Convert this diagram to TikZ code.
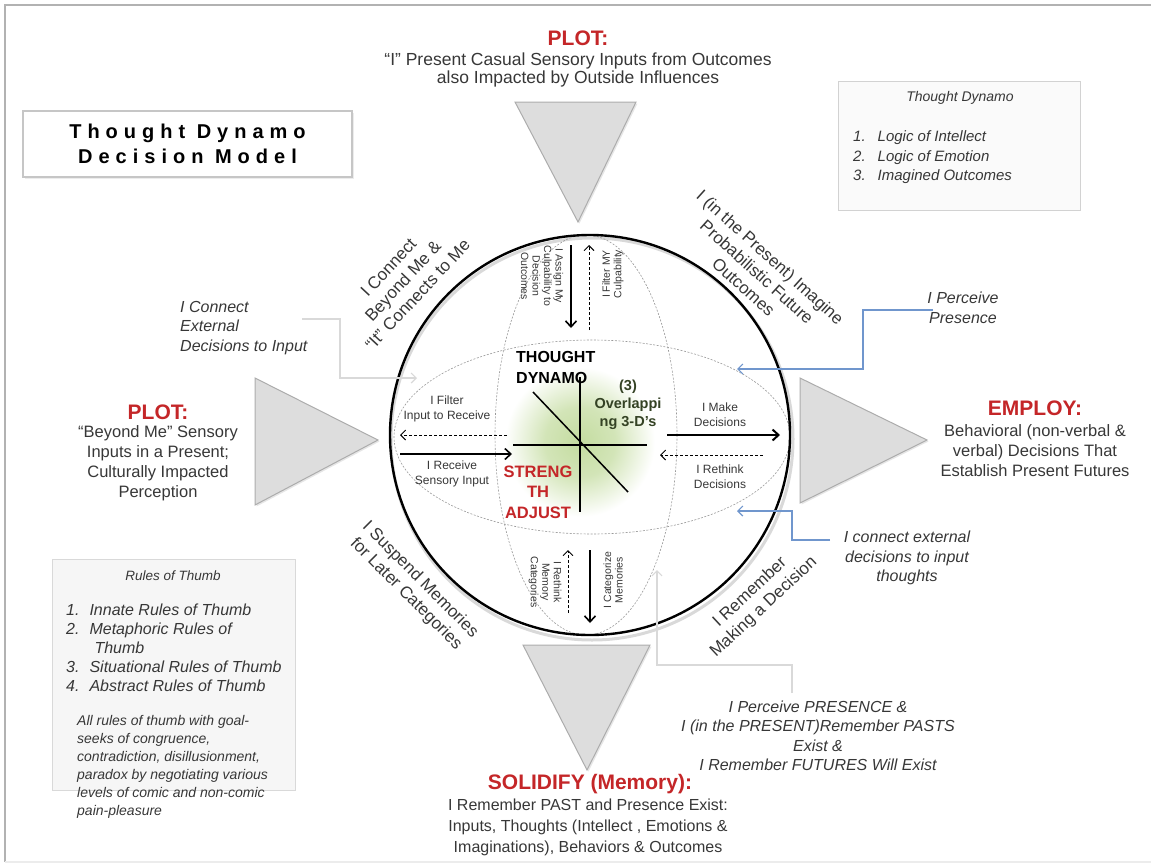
\documentclass[tikz,border=0pt]{standalone}
\usepackage{fontspec}
\setmainfont{Liberation Sans}
\usetikzlibrary{positioning,arrows.meta,shadows}
\definecolor{plotred}{RGB}{196,38,40}
\definecolor{txtgray}{RGB}{55,55,55}
\definecolor{linkblue}{RGB}{112,150,205}
\definecolor{glowgreen}{RGB}{196,220,160}
\definecolor{olivetxt}{RGB}{52,66,36}
\newcommand{\fsz}[2]{\fontsize{#1}{#2}\selectfont}
\pgfdeclareradialshading{greenglow}{\pgfpoint{0bp}{0bp}}{color(0bp)=(glowgreen);
  color(8bp)=(glowgreen!75!white); color(17bp)=(white); color(50bp)=(white)}

\begin{document}
\begin{tikzpicture}[x=1pt,y=-1pt]
  \tikzset{lbl/.style={align=center,text=txtgray,font=\fsz{16.5}{20}},
    hd/.style={text=plotred,font=\bfseries\fsz{21}{24}},
    note/.style={align=center,text=txtgray,font=\itshape\fsz{16}{19.5},inner sep=0pt},
    inlbl/.style={align=center,text=txtgray,font=\fsz{12}{15},inner sep=0pt},
    vlbl/.style={align=center,text=txtgray,font=\fsz{10.5}{11.5},inner sep=0pt},
    arcl/.style={align=center,text=txtgray,font=\fsz{17}{20},inner sep=0pt},
    tri/.style={fill=gray!27,draw=gray!65,line width=1pt,
      drop shadow={opacity=.2,shadow xshift=1.5pt,shadow yshift=-1.5pt}},
    flow/.style={line width=1.6pt,-{Straight Barb[length=6pt,width=11pt]}},
    back/.style={dash pattern=on 3pt off 2pt,line width=.9pt,-{Straight Barb[length=5pt,width=10pt]}},
    bluelink/.style={draw=linkblue,line width=1.2pt,-{Straight Barb[length=5pt,width=10pt]}},
    greylink/.style={draw=gray!30,line width=1.2pt,-{Straight Barb[length=5pt,width=10pt]}},
    guide/.style={dash pattern=on 2pt off 1.5pt,gray!80,line width=.6pt}}
  \useasboundingbox (0,0) rectangle (1151,863);
  % page frame
  \draw[gray!60,line width=2pt] (1151,5) -- (5,5) -- (5,862);
  \draw[gray!15,line width=1.5pt] (5,862) -- (1151,862);

  % sphere
  \shade[shading=greenglow] (580,442) circle (110);
  \draw[gray!30,line width=3pt] (592,439) circle (201);
  \draw[guide] (592,437) ellipse [x radius=198,y radius=97];
  \draw[guide] (586,435) ellipse [x radius=91,y radius=200];
  \draw[line width=2.4pt] (590,435) circle (200);
  \draw[line width=1.5pt] (580,377) -- (580,512);%axes
  \draw[line width=1.5pt] (513,445) -- (647,445);
  \draw[line width=1.5pt] (533,392) -- (628,492);

  % triangles
  \draw[tri] (515,102) -- (636,102) -- (578,222) -- cycle;
  \draw[tri] (255,378) -- (255,505) -- (378,440) -- cycle;
  \draw[tri] (800,378) -- (800,503) -- (927,440) -- cycle;
  \draw[tri] (523,645) -- (650,645) -- (587,770) -- cycle;

  % boxes
  \node[draw=gray!45,fill=white,line width=1.5pt,minimum width=329pt,minimum height=66pt,
    drop shadow={opacity=.15,shadow xshift=1.5pt,shadow yshift=-1.5pt},align=center,
    font={\bfseries\fsz{20}{25}\addfontfeatures{LetterSpace=30}}] (title) at (187.5,144)
    {Thought Dynamo\\Decision Model};
  \node[draw=gray!35,fill=gray!4,minimum width=242pt,minimum height=129pt,
    drop shadow={opacity=.1,shadow xshift=1pt,shadow yshift=-1pt}] (tdbox) at (959,145.5) {};
  \node[text=txtgray,font=\itshape\fsz{14}{17}] (tdhead) at (960,98) {Thought Dynamo};
  \node[text=txtgray,font=\itshape\fsz{15}{19.5},anchor=north west,inner sep=0pt] (tdlist) at (853,128)
    {\begin{tabular}{@{}l@{\hspace{12pt}}l@{}}1. & Logic of Intellect\\2. & Logic of Emotion\\3. & Imagined Outcomes\end{tabular}};
  \node[draw=gray!30,fill=gray!7,minimum width=243pt,minimum height=231pt,
    drop shadow={opacity=.1,shadow xshift=1pt,shadow yshift=-1pt}] (rulebox) at (173.5,674.5) {};
  \node[text=txtgray,font=\itshape\fsz{13.5}{17}] (rulehead) at (173,576) {Rules of Thumb};
  \node[text=txtgray,font=\itshape\fsz{16}{19},anchor=north west,inner sep=0pt] (rulelist) at (66,602)
    {\begin{tabular}{@{}l@{\hspace{10pt}}l@{}}1. & Innate Rules of Thumb\\2. & Metaphoric Rules of\\ & \hspace{5pt}Thumb\\
      3. & Situational Rules of Thumb\\4. & Abstract Rules of Thumb\end{tabular}};
  \node[text=txtgray,font=\itshape\fsz{14}{18},anchor=north west,inner sep=0pt,align=left] (rulenote) at (77,715)
    {All rules of thumb with goal-\\seeks of congruence,\\contradiction, disillusionment,\\paradox by negotiating various\\levels of comic and non-comic\\pain-pleasure};

  % headings
  \node[hd] (plottop) at (578,38) {PLOT:};
  \node[lbl,font=\fsz{17.5}{18.5}] (plottopt) [below=0pt of plottop]
    {“I” Present Casual Sensory Inputs from Outcomes\\also Impacted by Outside Influences};
  \node[hd] (plotleft) at (158,412) {PLOT:};
  \node[lbl] (plotleftt) at (158,463) {“Beyond Me” Sensory\\Inputs in a Present;\\Culturally Impacted\\Perception};
  \node[hd] (employ) at (1035,408) {EMPLOY:};
  \node[lbl] (employt) at (1035,451) {Behavioral (non-verbal \&\\verbal) Decisions That\\Establish Present Futures};
  \node[hd] (solid) at (590,784) {SOLIDIFY (Memory):};
  \node[lbl,font=\fsz{16}{21}] (solidt) at (588,827) {I Remember PAST and Presence Exist:\\Inputs, Thoughts (Intellect , Emotions \&\\Imaginations), Behaviors \& Outcomes};

  % centre labels
  \node[anchor=west,align=left,font=\bfseries\fsz{16}{21},inner sep=0pt] (dynamo) at (516,367) {THOUGHT\\DYNAMO};
  \node[text=olivetxt,font=\bfseries\fsz{14.5}{18},align=center,inner sep=0pt] (overlap) at (628,405) {(3)\\Overlappi\\ng 3-D’s};
  \node[text=plotred,font=\bfseries\fsz{16.5}{20.5},align=center,inner sep=0pt] (strength) at (538,492) {STRENG\\TH\\ADJUST};

  % inner arrows and their labels
  \node[inlbl] (filter) at (447,409) {I Filter\\Input to Receive};
  \node[inlbl] (receive) at (452,474) {I Receive\\Sensory Input};
  \node[inlbl] (make) at (720,415) {I Make\\Decisions};
  \node[inlbl] (rethink) at (720,477) {I Rethink\\Decisions};
  \node[vlbl,rotate=-90] (assign) at (542,276) {I Assign My\\Culpability to\\Decision\\Outcomes};
  \node[vlbl,rotate=90] (filtmy) at (613,274) {I Filter MY\\Culpability};
  \node[vlbl,rotate=-90] (rethinkmem) at (545,582) {I Rethink\\Memory\\Categories};
  \node[vlbl,rotate=90] (categ) at (613,580) {I Categorize\\Memories};
  \coordinate (aTs) at (571,245); \coordinate (aTe) at (571,328);
  \coordinate (bTs) at (589,330); \coordinate (bTe) at (589,245);
  \coordinate (bLs) at (507,435); \coordinate (bLe) at (400,435);
  \coordinate (aLs) at (400,454); \coordinate (aLe) at (512,454);
  \coordinate (aRs) at (667,435); \coordinate (aRe) at (780,435);
  \coordinate (bRs) at (763,455); \coordinate (bRe) at (660,455);
  \coordinate (bBs) at (568,613); \coordinate (bBe) at (568,550);
  \coordinate (aBs) at (590,550); \coordinate (aBe) at (590,623);
  \draw[flow] (aTs) -- (aTe);
  \draw[back] (bTs) -- (bTe);
  \draw[back] (bLs) -- (bLe);
  \draw[flow] (aLs) -- (aLe);
  \draw[flow,line width=2pt] (aRs) -- (aRe);
  \draw[back] (bRs) -- (bRe);
  \draw[back] (bBs) -- (bBe);
  \draw[flow] (aBs) -- (aBe);

  % curved side captions
  \node[arcl,rotate=47] (beyond) at (403,281) {I Connect\\Beyond Me \&\\“It” Connects to Me};
  \node[arcl,rotate=-42] (imagine) at (757,272) {I (in the Present) Imagine\\Probabilistic Future\\Outcomes};
  \node[arcl,rotate=-45] (suspend) at (413,587) {I Suspend Memories\\for Later Categories};
  \node[arcl,rotate=43] (remember) at (757,600) {I Remember\\Making a Decision};

  % callouts
  \node[note,align=left,anchor=west] (extin) at (180,328) {I Connect\\External\\Decisions to Input};
  \node[note] (presence) at (963,308) {I Perceive\\Presence};
  \node[note] (extthought) at (907,558) {I connect external\\decisions to input\\thoughts};
  \node[note] (pasts) at (818,736) {I Perceive PRESENCE \&\\I (in the PRESENT)Remember PASTS\\Exist \&\\I Remember FUTURES Will Exist};
  \coordinate (ceA) at (302,319); \coordinate (ceB) at (340,378); \coordinate (ceC) at (417,378);
  \coordinate (ppA) at (933,310); \coordinate (ppB) at (863,369); \coordinate (ppC) at (737,369);
  \coordinate (ctA) at (830,540); \coordinate (ctB) at (792,511); \coordinate (ctC) at (737,511);
  \coordinate (prA) at (792,693); \coordinate (prB) at (657,665); \coordinate (prC) at (657,570);
  \draw[greylink] (ceA) -| (ceB) -- (ceC);
  \draw[bluelink] (ppA) -| (ppB) -- (ppC);
  \draw[bluelink] (ctA) -| (ctB) -- (ctC);
  \draw[greylink] (prA) |- (prB) -- (prC);
\end{tikzpicture}
\end{document}
